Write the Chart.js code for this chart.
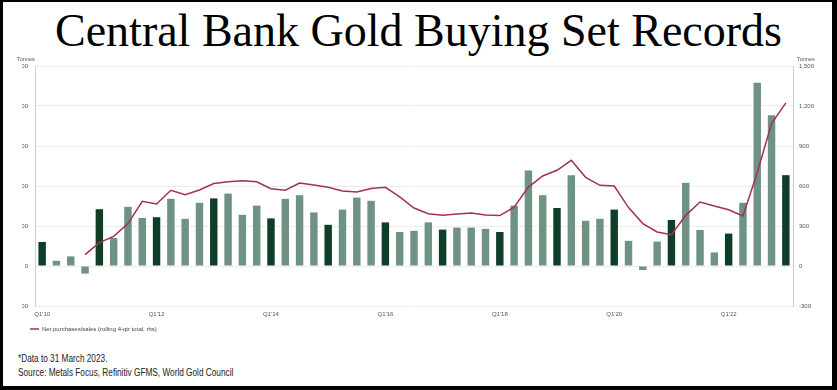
<!DOCTYPE html>
<html>
<head>
<meta charset="utf-8">
<script src="https://cdn.jsdelivr.net/npm/chart.js@4"></script>
<style>
  html, body { margin: 0; padding: 0; }
  body { width: 837px; height: 390px; background: #000; position: relative; overflow: hidden; }
  #frame { position: absolute; left: 3px; top: 2px; width: 829px; height: 384px; background: #fff; }
  #title { position: absolute; left: 0; top: 7.5px; width: 837px; text-align: center;
           font-family: "Liberation Serif", "Times New Roman", serif; font-size: 46px; line-height: 46px; color: #000; }
  #chartBox { position: absolute; left: 3px; top: 52px; width: 829px; height: 290px; }
  .note { position: absolute; left: 18px; font-family: "Liberation Sans", Arial, sans-serif; font-size: 11px;
          color: #222; white-space: nowrap; transform: scaleX(0.75); transform-origin: left center; line-height: 12px; }
</style>
</head>
<body>
<div id="frame"></div>
<div id="title">Central Bank Gold Buying Set Records</div>
<div id="chartBox"><canvas id="goldChart"></canvas></div>
<div class="note" style="top:352px">*Data to 31 March 2023.</div>
<div class="note" style="top:366px">Source: Metals Focus, Refinitiv GFMS, World Gold Council</div>
<script>
const quarters = [
    "Q1'10", "Q2'10", "Q3'10", "Q4'10", "Q1'11", "Q2'11", "Q3'11", "Q4'11",
    "Q1'12", "Q2'12", "Q3'12", "Q4'12", "Q1'13", "Q2'13", "Q3'13", "Q4'13",
    "Q1'14", "Q2'14", "Q3'14", "Q4'14", "Q1'15", "Q2'15", "Q3'15", "Q4'15",
    "Q1'16", "Q2'16", "Q3'16", "Q4'16", "Q1'17", "Q2'17", "Q3'17", "Q4'17",
    "Q1'18", "Q2'18", "Q3'18", "Q4'18", "Q1'19", "Q2'19", "Q3'19", "Q4'19",
    "Q1'20", "Q2'20", "Q3'20", "Q4'20", "Q1'21", "Q2'21", "Q3'21", "Q4'21",
    "Q1'22", "Q2'22", "Q3'22", "Q4'22", "Q1'23"
];

// quarterly net purchases, tonnes (lhs)
const quarterlyTonnes = [
    60, 13, 24, -19, 142, 70, 148, 120,
    122, 168, 118, 158, 169, 181, 128, 151,
    119, 168, 177, 134, 103, 141, 171, 163,
    109, 85, 88, 109, 91, 96, 96, 93,
    85, 151, 239, 177, 145, 227, 113, 118,
    141, 63, -10, 61, 115, 208, 90, 34,
    81, 158, 458, 377, 227
];

// rolling 4-qtr total, tonnes (rhs)
const rollingTotal = [
    null, null, null, 85, 175, 222, 318, 485,
    465, 568, 535, 570, 618, 632, 640, 632,
    580, 568, 622, 607, 590, 562, 555, 582,
    590, 518, 435, 392, 380, 390, 398, 382,
    378, 442, 592, 675, 718, 793, 665, 605,
    600, 438, 318, 255, 235, 380, 480, 450,
    422, 375, 700, 1068, 1223
];

const lineLabel = "Net purchases/sales (rolling 4-qtr total, rhs)";
const darkGreen = "#0f3d28";
const lightGreen = "#6f9383";
const lineRed = "#a3314f";
const tickFont = { family: "Liberation Sans", size: 6 };

const unitLabels = {
    id: "unitLabels",
    afterDraw(chart) {
        const { ctx, chartArea } = chart;
        ctx.save();
        ctx.font = "5.5px 'Liberation Sans'";
        ctx.fillStyle = "#555";
        ctx.textBaseline = "middle";
        ctx.textAlign = "left";
        ctx.fillText("Tonnes", chartArea.left - 18, chartArea.top - 7);
        ctx.fillText("Tonnes", chartArea.right + 4, chartArea.top - 7);
        ctx.restore();
    }
};

new Chart(document.getElementById("goldChart"), {
    data: {
        labels: quarters,
        datasets: [
            {
                type: "line",
                label: lineLabel,
                data: rollingTotal,
                yAxisID: "y1",
                borderColor: lineRed,
                backgroundColor: lineRed,
                borderWidth: 1.5,
                pointRadius: 0,
                tension: 0,
                order: 0,
            },
            {
                type: "bar",
                label: "Quarterly net purchases",
                data: quarterlyTonnes,
                yAxisID: "y",
                backgroundColor: quarterlyTonnes.map((v, i) => (i % 4 === 0 ? darkGreen : lightGreen)),
                barPercentage: 0.52,
                categoryPercentage: 1,
                order: 1,
            },
        ],
    },
    options: {
        responsive: true,
        maintainAspectRatio: false,
        animation: false,
        layout: { padding: { top: 14, left: 19, right: 0, bottom: 0 } },
        plugins: {
            legend: {
                position: "bottom",
                align: "start",
                labels: {
                    filter: (item) => item.text === lineLabel,
                    usePointStyle: true,
                    pointStyle: "line",
                    pointStyleWidth: 9,
                    padding: 8,
                    color: "#444",
                    font: tickFont,
                },
            },
            tooltip: { enabled: false },
        },
        scales: {
            x: {
                grid: { display: false, drawTicks: false },
                border: { display: false },
                afterFit: (scale) => { scale.height = 12; },
                ticks: {
                    autoSkip: false,
                    maxRotation: 0,
                    padding: 5,
                    color: "#555",
                    font: tickFont,
                    callback: (value, index) => (index % 8 === 0 ? quarters[index] : ""),
                },
            },
            y: {
                position: "left",
                min: -100,
                max: 500,
                afterFit: (scale) => { scale.width = 13; },
                ticks: { stepSize: 100, padding: 7, color: "#555", font: tickFont },
                grid: { color: "#ececec", lineWidth: 1, drawTicks: false },
                border: { display: true, color: "#cfcfcf", width: 1 },
            },
            y1: {
                position: "right",
                min: -300,
                max: 1500,
                afterFit: (scale) => { scale.width = 39; },
                ticks: {
                    stepSize: 300,
                    padding: 6,
                    color: "#555",
                    font: tickFont,
                    callback: (value) => value.toLocaleString("en-US"),
                },
                grid: { display: false, drawTicks: false },
                border: { display: true, color: "#cfcfcf", width: 1 },
            },
        },
    },
    plugins: [unitLabels],
});
</script>
</body>
</html>
